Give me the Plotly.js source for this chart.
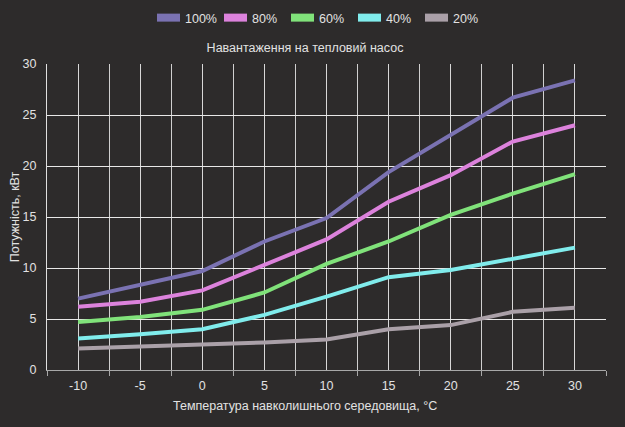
<!DOCTYPE html>
<html>
<head>
<meta charset="utf-8">
<script src="https://cdn.plot.ly/plotly-3.0.1.min.js"></script>
<style>
  html, body { margin: 0; padding: 0; background: #2d2b2b; }
  #chart { width: 625px; height: 427px; }
</style>
</head>
<body>
<div id="chart"></div>
<script>
  // Outdoor temperature, °C
  const temps = [-10, -5, 0, 5, 10, 15, 20, 25, 30];

  // Heat pump power, kW, per load level
  const load100 = [7.0, 8.4, 9.7, 12.6, 14.9, 19.4, 23.0, 26.7, 28.4];
  const load80 = [6.2, 6.7, 7.8, 10.3, 12.8, 16.5, 19.1, 22.4, 24.0];
  const load60 = [4.7, 5.2, 5.9, 7.6, 10.4, 12.6, 15.2, 17.3, 19.2];
  const load40 = [3.1, 3.5, 4.0, 5.4, 7.2, 9.1, 9.8, 10.9, 12.0];
  const load20 = [2.1, 2.3, 2.5, 2.7, 3.0, 4.0, 4.4, 5.7, 6.1];

  const seriesNames = ["100%", "80%", "60%", "40%", "20%"];
  const seriesValues = [load100, load80, load60, load40, load20];
  const COLOURS = ["#7a72b2", "#dc82dc", "#80e27a", "#80ecec", "#aaa0a8"];

  const xLabels = [-10, -5, 0, 5, 10, 15, 20, 25, 30];
  const xMinor = [-12.5, -7.5, -2.5, 2.5, 7.5, 12.5, 17.5, 22.5, 27.5, 32.5];

  const BG = "#2d2b2b";
  const TEXT = "#e2e2e2";
  const FONT = "Liberation Sans, Arial, sans-serif";
  const FS = 12.5;

  const traces = seriesNames.map((name, i) => ({
    type: "scatter",
    mode: "lines",
    name,
    x: temps,
    y: seriesValues[i],
    line: { color: COLOURS[i], width: 4 },
    hovertemplate: "%{x} °C: %{y} кВт<extra>" + name + "</extra>",
  }));

  const layout = {
    width: 625,
    height: 427,
    margin: { l: 47, r: 19, t: 64, b: 57 },
    paper_bgcolor: BG,
    plot_bgcolor: BG,
    font: { family: FONT, size: FS, color: TEXT },
    showlegend: true,
    legend: {
      orientation: "h",
      x: 0.5,
      xref: "container",
      xanchor: "center",
      y: 1 - 18 / 427,
      yref: "container",
      yanchor: "middle",
      font: { size: FS, color: TEXT },
      itemwidth: 30,
      entrywidth: 22,
      bgcolor: "rgba(0,0,0,0)",
    },
    title: {
      text: "Навантаження на тепловий насос",
      font: { size: FS, color: TEXT },
      xref: "container",
      x: 305 / 625,
      xanchor: "center",
      yref: "container",
      y: 1 - 48 / 427,
      yanchor: "middle",
    },
    xaxis: {
      range: [-12.5, 32.5],
      tickvals: xLabels,
      ticktext: xLabels.map(String),
      ticks: "",
      ticklabelstandoff: 4,
      showgrid: true,
      gridcolor: "#d8d8d8",
      gridwidth: 1,
      zeroline: false,
      showline: true,
      linecolor: "#a8a8a8",
      linewidth: 1,
      minor: {
        tickvals: xMinor,
        ticks: "outside",
        ticklen: 5,
        tickcolor: "#a8a8a8",
        showgrid: true,
        gridcolor: "#d0d0d0",
        gridwidth: 1,
      },
      tickfont: { size: FS, color: TEXT },
      fixedrange: true,
    },
    yaxis: {
      range: [0, 30],
      dtick: 5,
      ticks: "",
      ticklabelstandoff: 7,
      showgrid: true,
      gridcolor: "#e8e8e8",
      gridwidth: 1,
      zeroline: false,
      showline: true,
      linecolor: "#e0e0e0",
      linewidth: 1,
      tickfont: { size: FS, color: TEXT },
      title: { text: "Потужність, кВт", font: { size: FS, color: TEXT }, standoff: 0 },
      fixedrange: true,
    },
    annotations: [{
      text: "Температура навколишнього середовища, °C",
      xref: "paper",
      x: (305 - 47) / (625 - 47 - 19),
      xanchor: "center",
      yref: "paper",
      y: -(406 - 370) / (427 - 64 - 57),
      yanchor: "middle",
      showarrow: false,
      font: { size: FS, color: TEXT },
    }],
  };

  Plotly.newPlot("chart", traces, layout, { displayModeBar: false, staticPlot: true }).then((gd) => {
    // Legend swatches are short thick bars in the reference.
    gd.querySelectorAll(".legend .legendlines path").forEach((p) => {
      p.setAttribute("d", "M12,0h23");
      p.style.strokeWidth = "8px";
    });
  });
</script>
</body>
</html>
